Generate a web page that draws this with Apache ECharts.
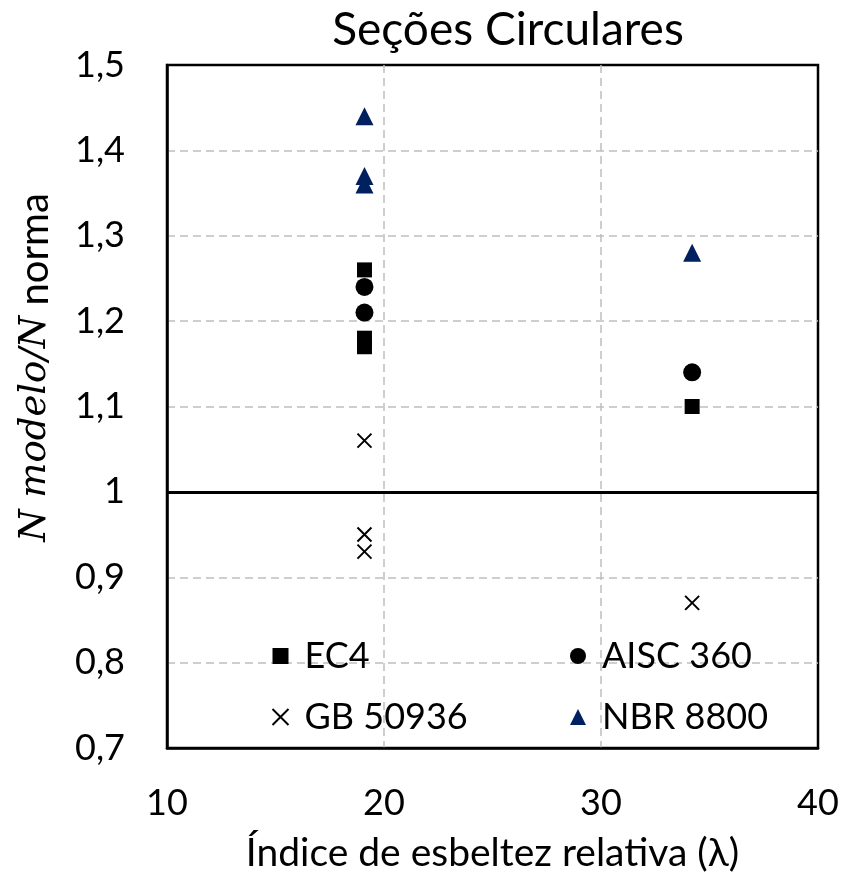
<!DOCTYPE html>
<html>
<head>
<meta charset="utf-8">
<script src="https://cdn.jsdelivr.net/npm/echarts@6/dist/echarts.min.js"></script>
<style>html,body{margin:0;padding:0;background:#fff}#c{width:846px;height:878px}</style>
</head>
<body>
<div id="c"></div>
<script>
// Data
const xTicks = [10, 20, 30, 40];
const yTicks = [0.7, 0.8, 0.9, 1.0, 1.1, 1.2, 1.3, 1.4, 1.5];
const ec4X = [19.1, 19.1, 19.1, 34.2];
const ec4Y = [1.26, 1.18, 1.17, 1.10];
const aiscX = [19.1, 19.1, 34.2];
const aiscY = [1.24, 1.21, 1.14];
const gbX = [19.1, 19.1, 19.1, 34.2];
const gbY = [1.06, 0.95, 0.93, 0.87];
const nbrX = [19.1, 19.1, 19.1, 34.2];
const nbrY = [1.44, 1.37, 1.36, 1.28];
const refLine = 1.0;

const zip = (a, b) => a.map((v, i) => [v, b[i]]);
const FONT = 'Lato';
const crossPath = 'path://M0,0L10,10M10,0L0,10';
const legendText = { fontFamily: FONT, fontSize: 36, color: '#000', lineHeight: 40, padding: [0, 0, 0, 11] };

const chart = echarts.init(document.getElementById('c'));
chart.setOption({
  animation: false,
  backgroundColor: '#fff',
  title: {
    text: 'Seções Circulares',
    left: 503, top: 2, textAlign: 'center',
    textStyle: { fontFamily: FONT, fontSize: 46, fontWeight: 'normal', color: '#000' }
  },
  grid: {
    left: 167, right: 28, top: 65, bottom: 128,
    show: true, borderColor: '#000', borderWidth: 2.5, backgroundColor: 'transparent'
  },
  legend: [
    {
      data: ['EC4', 'GB 50936'], orient: 'vertical', left: 265, top: 631,
      itemWidth: 16, itemHeight: 16, itemGap: 21, textStyle: legendText
    },
    {
      data: ['AISC 360', 'NBR 8800'], orient: 'vertical', left: 565, top: 631,
      itemWidth: 16, itemHeight: 16, itemGap: 21, textStyle: legendText
    }
  ],
  xAxis: {
    type: 'value', min: xTicks[0], max: xTicks[xTicks.length - 1], interval: 10,
    name: 'Índice de esbeltez relativa (λ)', nameLocation: 'middle', nameGap: 86,
    nameTextStyle: { fontFamily: FONT, fontSize: 39, color: '#000' },
    axisLine: { show: true, lineStyle: { color: '#000', width: 2.5 } },
    axisTick: { show: false },
    axisLabel: { fontFamily: FONT, fontSize: 36, color: '#000', margin: 37 },
    splitLine: { show: true, showMinLine: false, showMaxLine: false, lineStyle: { color: '#bfbfbf', type: [8, 5], width: 1.5 } }
  },
  yAxis: {
    type: 'value', min: yTicks[0], max: yTicks[yTicks.length - 1], interval: 0.1,
    name: '{i|N modelo/N}{n| norma}', nameLocation: 'middle', nameGap: 112, nameRotate: 90,
    nameTextStyle: {
      padding: [0, 0, 0, 78],
      rich: {
        i: { fontFamily: 'DejaVu Serif', fontStyle: 'italic', fontSize: 37, color: '#000' },
        n: { fontFamily: FONT, fontSize: 40, color: '#000' }
      }
    },
    axisLine: { show: true, lineStyle: { color: '#000', width: 2.5 } },
    axisTick: { show: false },
    axisLabel: {
      fontFamily: FONT, fontSize: 36, color: '#000', margin: 42,
      formatter: v => String(Math.round(v * 10) / 10).replace('.', ',')
    },
    splitLine: { show: true, showMinLine: false, showMaxLine: false, lineStyle: { color: '#bfbfbf', type: [8, 5], width: 1.5 } }
  },
  series: [
    {
      name: 'EC4', type: 'scatter', data: zip(ec4X, ec4Y),
      symbol: 'rect', symbolSize: 15, itemStyle: { color: '#000', opacity: 1 },
      markLine: {
        silent: true, symbol: 'none', label: { show: false },
        lineStyle: { color: '#000', width: 3, type: 'solid', opacity: 1 },
        data: [{ yAxis: refLine }]
      }
    },
    {
      name: 'AISC 360', type: 'scatter', data: zip(aiscX, aiscY),
      symbol: 'circle', symbolSize: 18, itemStyle: { color: '#000', opacity: 1 }
    },
    {
      name: 'GB 50936', type: 'scatter', data: zip(gbX, gbY),
      symbol: crossPath, symbolSize: 14,
      itemStyle: { color: 'none', borderColor: '#000', borderWidth: 2, opacity: 1 }
    },
    {
      name: 'NBR 8800', type: 'scatter', data: zip(nbrX, nbrY),
      symbol: 'triangle', symbolSize: 18, itemStyle: { color: '#002060', opacity: 1 }
    }
  ]
});
</script>
</body>
</html>
